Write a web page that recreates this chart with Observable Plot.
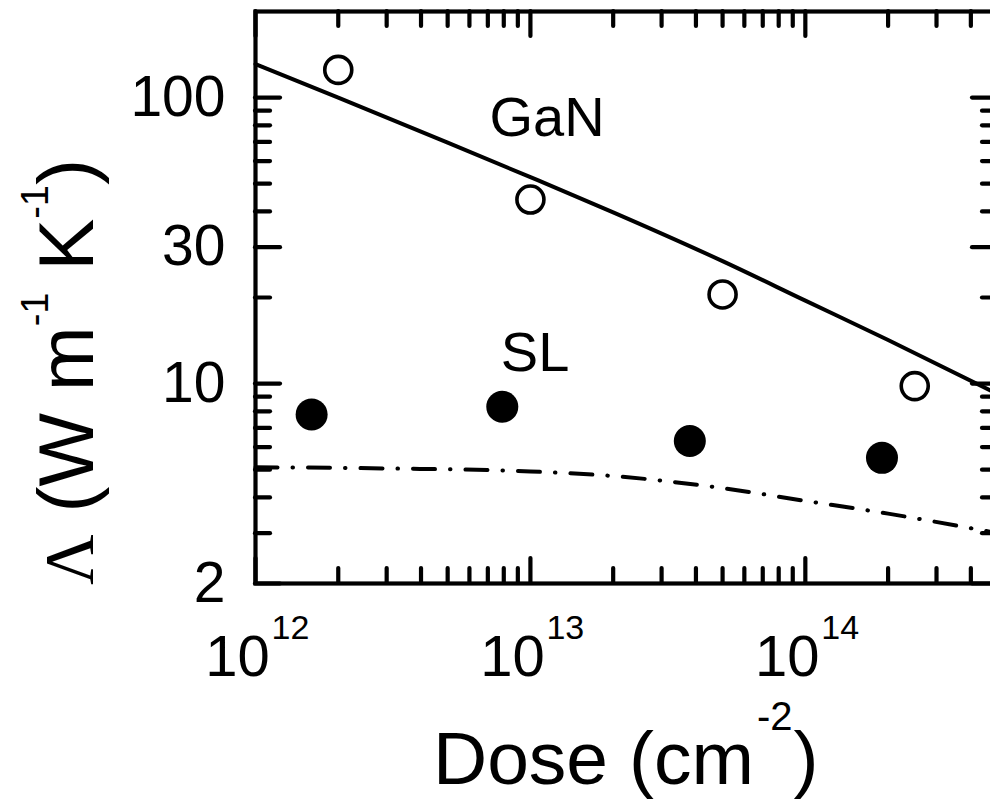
<!DOCTYPE html>
<html><head><meta charset="utf-8">
<script src="https://cdn.jsdelivr.net/npm/d3@7"></script>
<script src="https://cdn.jsdelivr.net/npm/@observablehq/plot@0.6"></script>
<style>html,body{margin:0;padding:0;background:#fff;overflow:hidden;}</style>
</head><body><div id="chart"></div>
<script>
// ---- data ----
const ganDose = [2e12, 1e13, 5e13, 2.5e14];
const ganLambda = [125, 44, 20.5, 9.8];
const slDose = [1.6e12, 7.9e12, 3.8e13, 1.9e14];
const slLambda = [7.8, 8.3, 6.3, 5.5];
const ganFitDose = [1e12, 2e12, 5e12, 1e13, 2e13, 5e13, 1e14, 2e14, 5e14];
const ganFitLambda = [131, 100, 69.6, 52.7, 39.7, 26.8, 19.5, 14.2, 9.2];
const slFitDose = [1e12, 3e12, 1e13, 2e13, 5e13, 1e14, 2e14, 5e14];
const slFitLambda = [5.1, 5.05, 4.93, 4.75, 4.31, 3.89, 3.51, 3.0];
const xMajorTicks = [1e12, 1e13, 1e14];
const xMinorTicks = [2e12, 3e12, 4e12, 5e12, 6e12, 7e12, 8e12, 9e12,
                     2e13, 3e13, 4e13, 5e13, 6e13, 7e13, 8e13, 9e13,
                     2e14, 3e14, 4e14];
const xTickBase = ["10", "10", "10"];
const xTickExponents = ["12", "13", "14"];
const yMajorTicks = [2, 10, 30, 100];
const yTickLabels = ["2", "10", "30", "100"];
const yMinorTicks = [3, 4, 5, 6, 7, 8, 9, 20, 40, 50, 60, 70, 80, 90];
const seriesLabels = ["GaN", "SL"];
const seriesLabelDose = [1.15e13, 1.04e13];
const seriesLabelLambda = [84.5, 12.8];

// ---- layout ----
const width = 1000, height = 802;
const mL = 255, mR = 3, mT = 11, mB = 219;
const W = width - mL - mR, H = height - mT - mB;
const majorLen = 25, minorLen = 15, tickW = 4.2;
const font = "Liberation Sans, Arial, Helvetica, sans-serif";

const gan = ganDose.map((d, i) => ({dose: d, lambda: ganLambda[i]}));
const sl = slDose.map((d, i) => ({dose: d, lambda: slLambda[i]}));
const ganFit = ganFitDose.map((d, i) => ({dose: d, lambda: ganFitLambda[i]}));
const slFit = slFitDose.map((d, i) => ({dose: d, lambda: slFitLambda[i]}));
const xLab = xMajorTicks.map((d, i) => ({dose: d, base: xTickBase[i], exp: xTickExponents[i]}));
const yLab = yMajorTicks.map((d, i) => ({v: d, t: yTickLabels[i]}));
const sLab = seriesLabels.map((t, i) => ({t, dose: seriesLabelDose[i], lambda: seriesLabelLambda[i]}));

const ticks = (vals, len, axis) => {
  const o = {strokeWidth: tickW, stroke: "black", strokeLinecap: "round"};
  if (axis === "bottom") return Plot.tickX(vals, {...o, x: d => d, insetTop: H - len});
  if (axis === "top") return Plot.tickX(vals, {...o, x: d => d, insetBottom: H - len});
  if (axis === "left") return Plot.tickY(vals, {...o, y: d => d, insetRight: W - len});
  return Plot.tickY(vals, {...o, y: d => d, insetLeft: W - len});
};

const chart = Plot.plot({
  width, height,
  marginLeft: mL, marginRight: mR, marginTop: mT, marginBottom: mB,
  style: {fontFamily: font, background: "white", maxWidth: "none", overflow: "visible"},
  x: {type: "log", domain: [1e12, 5e14], axis: null},
  y: {type: "log", domain: [2, 200], axis: null},
  marks: [
    ...["bottom", "top"].flatMap(a => [ticks(xMajorTicks, majorLen, a), ticks(xMinorTicks, minorLen, a)]),
    ...["left", "right"].flatMap(a => [ticks(yMajorTicks, majorLen, a), ticks(yMinorTicks, minorLen, a)]),
    Plot.line(ganFit, {x: "dose", y: "lambda", stroke: "black", strokeWidth: 4, curve: "monotone-x"}),
    Plot.line(slFit, {x: "dose", y: "lambda", stroke: "black", strokeWidth: 4, curve: "monotone-x",
      strokeDasharray: "22,15,0.5,15", strokeLinecap: "round"}),
    Plot.dot(gan, {x: "dose", y: "lambda", r: 13.5, stroke: "black", strokeWidth: 3.6, fill: "white"}),
    Plot.dot(sl, {x: "dose", y: "lambda", r: 16, fill: "black", stroke: "none"}),
    Plot.text(sLab, {x: "dose", y: "lambda", text: "t", fontSize: 56, textAnchor: "middle", lineAnchor: "middle", fill: "black"}),
    Plot.text(yLab, {y: "v", text: "t", frameAnchor: "left", textAnchor: "end", lineAnchor: "middle", dx: -30, fontSize: 57, fill: "black"}),
    Plot.text(xLab, {x: "dose", text: "base", frameAnchor: "bottom", textAnchor: "middle", lineAnchor: "bottom", dx: -18, dy: 92, fontSize: 58, fill: "black"}),
    Plot.text(xLab, {x: "dose", text: "exp", frameAnchor: "bottom", textAnchor: "start", lineAnchor: "bottom", dx: 16, dy: 55, fontSize: 34, fill: "black"}),
    Plot.frame({stroke: "black", strokeWidth: 4.2})
  ]
});
document.getElementById("chart").appendChild(chart);

// ---- axis titles (with superscripts) ----
const svg = d3.select(chart);
const xt = svg.append("text").attr("x", 433).attr("y", height - 18)
  .attr("text-anchor", "start")
  .attr("font-family", font).attr("font-size", 75).attr("fill", "black");
xt.append("tspan").text("Dose (cm");
xt.append("tspan").attr("font-size", 40).attr("dx", 3).attr("dy", -54).text("-2");
xt.append("tspan").attr("dx", 1).attr("dy", 54).text(")");

const yt = svg.append("text")
  .attr("transform", `translate(93,${mT + H + 2}) rotate(-90)`)
  .attr("text-anchor", "start")
  .attr("font-family", font).attr("font-size", 78).attr("fill", "black");
yt.append("tspan").attr("font-family", "Liberation Serif, Times New Roman, serif").attr("font-size", 70).text("Λ");
yt.append("tspan").text(" (W m");
yt.append("tspan").attr("font-size", 38).attr("dy", -45).text("-1");
yt.append("tspan").attr("dy", 45).text(" K");
yt.append("tspan").attr("font-size", 38).attr("dy", -45).text("-1");
yt.append("tspan").attr("dy", 45).text(")");
</script>
</body></html>
